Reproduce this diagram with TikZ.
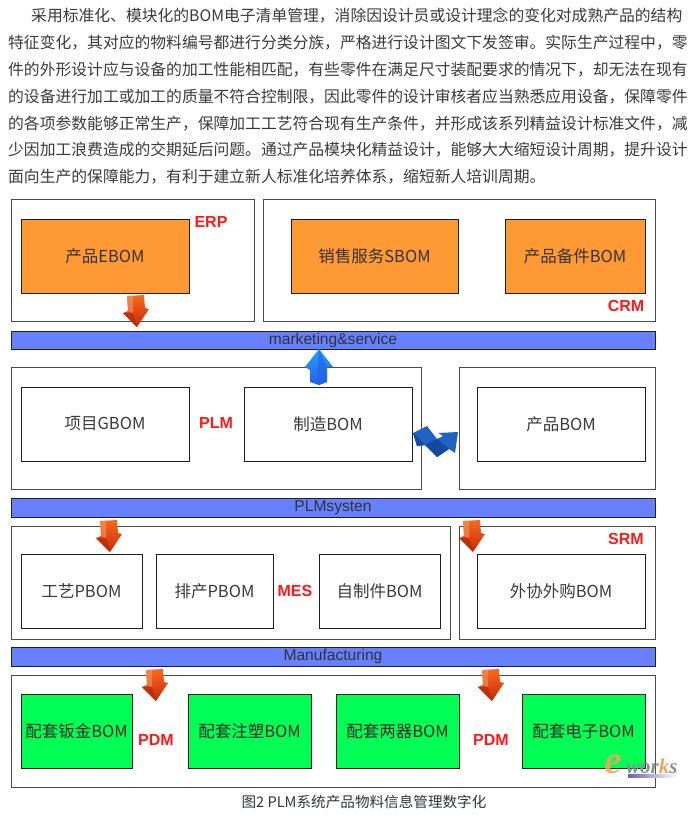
\documentclass[tikz,border=0pt]{standalone}
\usepackage{fontspec}
\setmainfont{Noto Sans CJK SC}
\newfontfamily\latinfont{Liberation Sans}
\newfontfamily\markfont{Liberation Serif}
\XeTeXlinebreaklocale "zh"
\XeTeXlinebreakskip=0pt plus 1pt minus .5pt
\usetikzlibrary{calc}
\definecolor{ink}{HTML}{3A3A3A}
\definecolor{frame}{HTML}{4A4A4A}
\definecolor{boxline}{HTML}{202020}
\definecolor{orangebox}{HTML}{FF9933}
\definecolor{greenbox}{HTML}{00FF55}
\definecolor{barblue}{HTML}{6680FF}
\definecolor{system}{HTML}{FF1A1A}
\definecolor{capt}{HTML}{30343A}
\definecolor{redtop}{HTML}{F56A1E}
\definecolor{reddark}{HTML}{C92A08}
\definecolor{bluetop}{HTML}{2AA0FA}
\definecolor{bluedark}{HTML}{2460E8}
\definecolor{zigblue}{HTML}{1F63C4}
\definecolor{zigdark}{HTML}{134A9C}
\definecolor{markorange}{HTML}{F2A65A}
\definecolor{markgray}{HTML}{8C8F98}

\begin{document}
\begin{tikzpicture}[x=1pt,y=-1pt,
  para/.style={text=ink,font=\fontsize{15.8}{16}\selectfont,anchor=west,inner sep=0pt},
  outerbox/.style={draw=frame,line width=1pt,fill=white},
  plainbox/.style={draw=boxline,line width=.9pt,fill=white,text=ink,
    font=\fontsize{16.5}{18}\selectfont,inner sep=0pt},
  orangenode/.style={plainbox,fill=orangebox,text=black!80},
  greennode/.style={plainbox,fill=greenbox,text=black!85},
  bar/.style={draw=boxline,line width=.9pt,fill=barblue,text=black!80,
    font=\latinfont\fontsize{15.6}{18}\selectfont,inner sep=0pt},
  tag/.style={text=system,font=\latinfont\bfseries\fontsize{16}{18}\selectfont,inner sep=0pt},
  caption/.style={text=capt,font=\fontsize{14.6}{16}\selectfont,inner sep=0pt},
  downarrow/.pic={
    \shade[top color=redtop,bottom color=reddark]
      (-9,-15)--(8,-16)--(9,-3)--(13,-2)--(1,16)--(-13,2)--(-8,0)--cycle;
    \fill[reddark!85!black,opacity=.55] (-13,2)--(-3,2)--(1,16)--cycle;
    \fill[redtop!70!white,opacity=.6] (-9,-15)--(-3,-15)--(-3,2)--(-8,0)--cycle;
  },
  uparrow/.pic={
    \shade[top color=bluetop,bottom color=bluedark]
      (0,-18)--(14,0)--(8,0)--(8,15)--(0,18)--(-9,15)--(-9,3)--(-14,0)--cycle;
    \fill[bluedark,opacity=.6] (-2,3)--(0,-18)--(8,0)--(8,15)--(0,18)--cycle;
  }
]
\useasboundingbox (0,0) rectangle (697,821);
\foreach \row/\xs/\linew/\txt in {
  1/31/656/采用标准化、模块化的BOM电子清单管理，消除因设计员或设计理念的变化对成熟产品的结构,
  2/8/679/特征变化，其对应的物料编号都进行分类分族，严格进行设计图文下发签审。实际生产过程中，零,
  3/8/679/件的外形设计应与设备的加工性能相匹配，有些零件在满足尺寸装配要求的情况下，却无法在现有,
  4/8/679/的设备进行加工或加工的质量不符合控制限，因此零件的设计审核者应当熟悉应用设备，保障零件,
  5/8/679/的各项参数能够正常生产，保障加工工艺符合现有生产条件，并形成该系列精益设计标准文件，减,
  6/8/679/少因加工浪费造成的交期延后问题。通过产品模块化精益设计，能够大大缩短设计周期，提升设计}
  \node[para] (para\row) at (\xs,{16+26.8*(\row-1)}) {\makebox[\linew pt][s]{\txt}};
\node[para] (para7) at (8,176.8) {面向生产的保障能力，有利于建立新人标准化培养体系，缩短新人培训周期。};
\draw[outerbox] (11,199) rectangle (254,321);
\draw[outerbox] (263,199) rectangle (655,321);
\draw[outerbox] (11,367) rectangle (421,489);
\draw[outerbox] (459,367) rectangle (655,489);
\draw[outerbox] (11,526) rectangle (450,639);
\draw[outerbox] (459,526) rectangle (655,639);
\draw[outerbox] (11,675) rectangle (655,787);
\foreach \name/\style/\xa/\ya/\xb/\yb/\txt in {
  ebom/orangenode/21/219/189/293/产品EBOM,
  sbom/orangenode/291/219/458/293/销售服务SBOM,
  spare/orangenode/505/219/645/293/产品备件BOM,
  gbom/plainbox/21/387/189/461/项目GBOM,
  make/plainbox/244/387/412/461/制造BOM,
  prod/plainbox/477/387/645/461/产品BOM,
  pbom/plainbox/21/554/142/628/工艺PBOM,
  sched/plainbox/156/554/273/628/排产PBOM,
  self/plainbox/319/554/440/628/自制件BOM,
  outs/plainbox/477/554/645/628/外协外购BOM,
  metal/greennode/21/694/132/768/配套钣金BOM,
  mold/greennode/188/694/311/768/配套注塑BOM,
  two/greennode/336/694/459/768/配套两器BOM,
  elec/greennode/522/694/645/768/配套电子BOM}
  \node[\style,minimum width={(\xb-\xa)*1pt},minimum height={(\yb-\ya)*1pt}]
    (\name) at ({(\xa+\xb)/2},{(\ya+\yb)/2}) {\txt};
\foreach \name/\ya/\yb/\txt in {
  market/331/349/marketing\&service,
  plmsys/498/517/PLMsysten,
  manu/647/666/Manufacturing}
  \node[bar,minimum width=644pt,minimum height={(\yb-\ya)*1pt}]
    (\name) at (333,{(\ya+\yb)/2}) {\txt};
\node[tag] (erp) at (211,222) {ERP};
\node[tag] (crm) at (626,306) {CRM};
\node[tag] (plm) at (216,423) {PLM};
\node[tag] (srm) at (626,539) {SRM};
\node[tag] (mes) at (295,591) {MES};
\node[tag] (pdma) at (156,740) {PDM};
\node[tag] (pdmb) at (491,740) {PDM};
\node[caption] (fig) at (364,802) {图2 PLM系统产品物料信息管理数字化};
\pic at (136,311) {downarrow};
\pic at (109,536) {downarrow};
\pic at (472,536) {downarrow};
\pic at (155,685) {downarrow};
\pic at (491,685) {downarrow};
\pic at (319,367) {uparrow};
\fill[zigblue] (413,433)--(427,426)--(437,439)--(443,436)--(438,433)--(458,432)
  --(455,453)--(449,449)--(437,457)--(425,445)--(417,446)--cycle;
\fill[zigdark] (413,433)--(425,445)--(417,446)--cycle;
\fill[zigdark] (437,439)--(449,449)--(437,457)--(425,445)--cycle;
\node[text=markorange,font=\markfont\itshape\bfseries\fontsize{40}{40}\selectfont,
  inner sep=0pt,opacity=.85] (marke) at (613,764) {e};
\node[text=markgray,font=\markfont\itshape\bfseries\fontsize{21}{21}\selectfont,
  inner sep=0pt,anchor=west] (markw) at (626,766) {wor\textcolor{markorange}{k}s};
\shade[left color=markgray!70!blue,right color=white] (628,774) rectangle (677,777);
\end{tikzpicture}
\end{document}
